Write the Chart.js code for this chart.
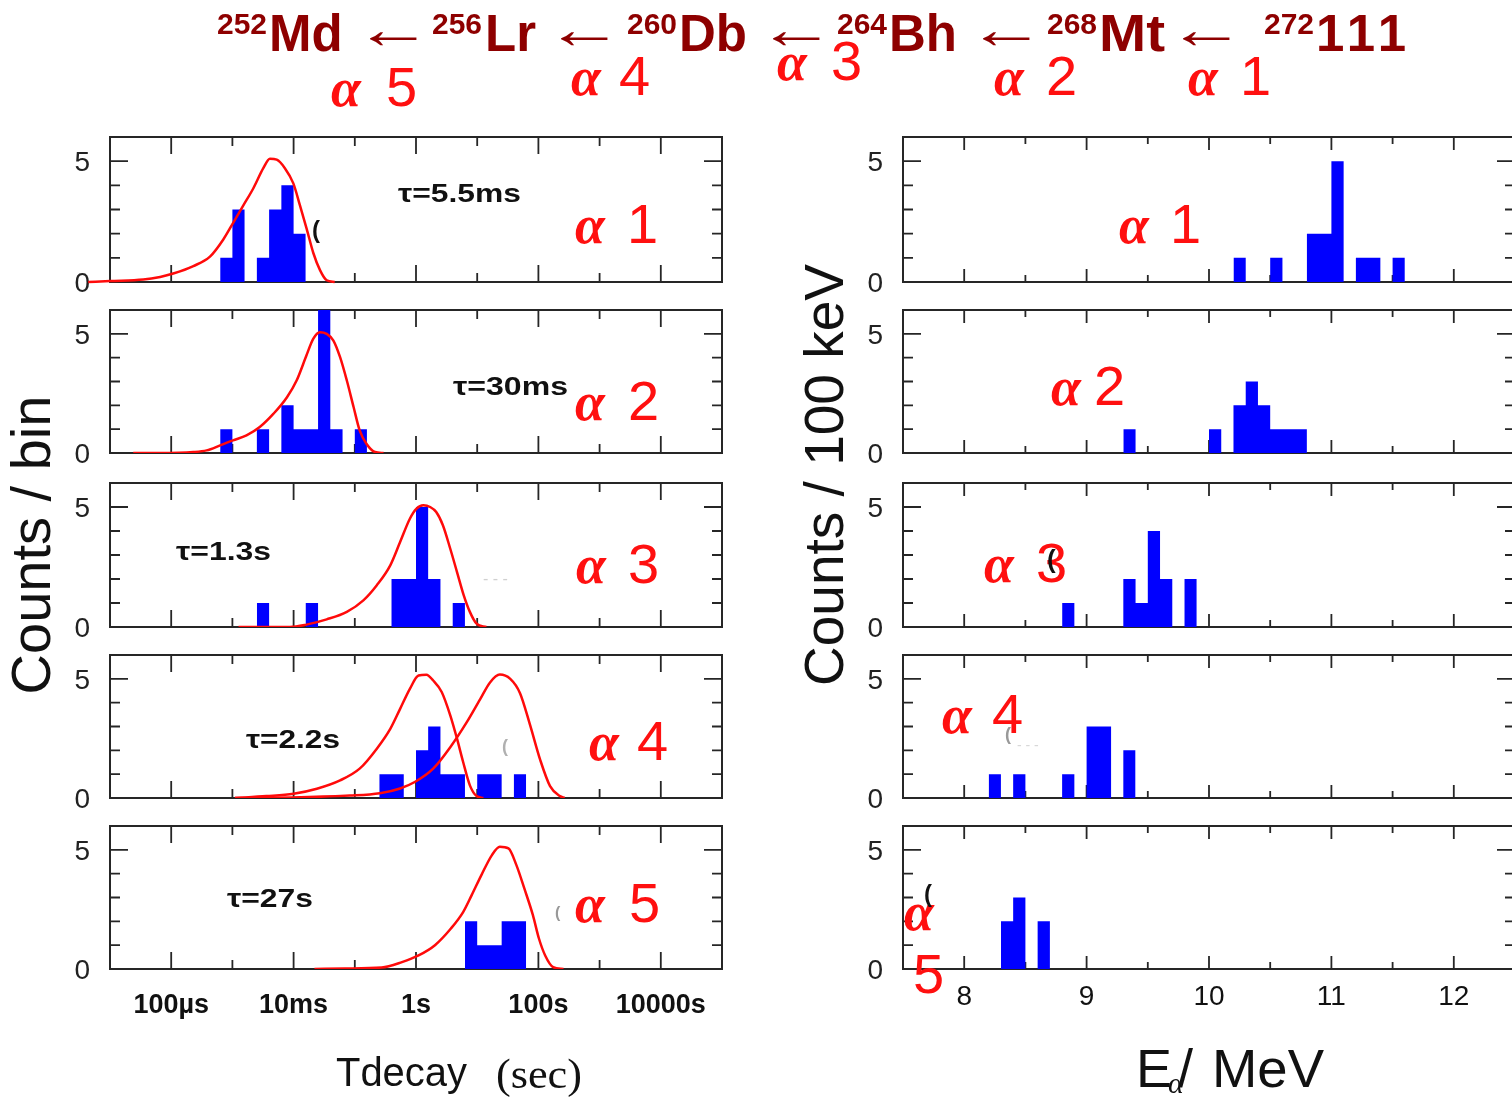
<!DOCTYPE html>
<html>
<head>
<meta charset="utf-8">
<title>Decay chain of 272111</title>
<script src="https://cdn.jsdelivr.net/npm/chart.js@4.4.1/dist/chart.umd.min.js"></script>
<style>
  html, body { margin: 0; padding: 0; background: #fff; overflow: hidden; }
  #stage { position: relative; width: 1512px; height: 1099px; overflow: hidden; background: #fff; }
  #stage canvas { position: absolute; }
  #labels { position: absolute; left: 0; top: 0; pointer-events: none; }
</style>
</head>
<body>
<div id="stage">
<svg id="labels" width="1512" height="1099" xmlns="http://www.w3.org/2000/svg">
  <!-- decay chain header -->
  <g font-family="Liberation Sans, Arial, sans-serif" font-weight="bold" fill="#8e0000">
    <text x="217" y="34" font-size="30">252</text><text x="269" y="51" font-size="51">Md</text>
    <text x="432" y="34" font-size="30">256</text><text x="485" y="51" font-size="51">Lr</text>
    <text x="627" y="34" font-size="30">260</text><text x="679" y="51" font-size="51">Db</text>
    <text x="837" y="34" font-size="30">264</text><text x="889" y="51" font-size="51">Bh</text>
    <text x="1047" y="34" font-size="30">268</text><text x="1099" y="51" font-size="51" textLength="66" lengthAdjust="spacingAndGlyphs">Mt</text>
    <text x="1264" y="34" font-size="30">272</text><text x="1316" y="51" font-size="51" textLength="90" lengthAdjust="spacing">111</text>
  </g>
  <g font-family="Liberation Serif, serif" font-size="56" fill="#8e0000" text-anchor="middle">
    <text transform="translate(393,48) scale(1.4,1)">←</text>
    <text transform="translate(584,48) scale(1.4,1)">←</text>
    <text transform="translate(796,48) scale(1.4,1)">←</text>
    <text transform="translate(1006,48) scale(1.4,1)">←</text>
    <text transform="translate(1206,48) scale(1.4,1)">←</text>
  </g>
  <!-- alpha labels -->
  <g fill="#ff1010">
    <g font-family="Liberation Serif, serif" font-style="italic" font-weight="bold" font-size="54">
      <text x="331" y="106">α</text><text x="571" y="95">α</text><text x="777" y="80">α</text>
      <text x="994" y="95">α</text><text x="1188" y="95">α</text>
      <text x="575" y="243">α</text><text x="575" y="420">α</text><text x="576" y="583">α</text>
      <text x="589" y="760">α</text><text x="575" y="922">α</text>
      <text x="1119" y="243">α</text><text x="1051" y="405">α</text><text x="984" y="582">α</text>
      <text x="942" y="733">α</text><text x="904" y="930">α</text>
    </g>
    <g font-family="Liberation Sans, Arial, sans-serif" font-size="56">
      <text x="386" y="106">5</text><text x="619" y="95">4</text><text x="831" y="80">3</text>
      <text x="1046" y="95">2</text><text x="1240" y="95">1</text>
      <text x="627" y="243">1</text><text x="628" y="420">2</text><text x="628" y="583">3</text>
      <text x="637" y="760">4</text><text x="629" y="922">5</text>
      <text x="1170" y="243">1</text><text x="1094" y="405">2</text><text x="1036" y="582">3</text>
      <text x="992" y="733">4</text><text x="913" y="993">5</text>
    </g>
  </g>
  <!-- fitted lifetimes -->
  <g font-family="Liberation Sans, Arial, sans-serif" font-weight="bold" font-size="25" fill="#111">
    <text x="398" y="202" textLength="123" lengthAdjust="spacingAndGlyphs">τ=5.5ms</text>
    <text x="453" y="395" textLength="115" lengthAdjust="spacingAndGlyphs">τ=30ms</text>
    <text x="176" y="560" textLength="95" lengthAdjust="spacingAndGlyphs">τ=1.3s</text>
    <text x="246" y="748" textLength="94" lengthAdjust="spacingAndGlyphs">τ=2.2s</text>
    <text x="227" y="907" textLength="86" lengthAdjust="spacingAndGlyphs">τ=27s</text>
  </g>
  <!-- stray marks left over in the figure -->
  <g font-family="Liberation Sans, Arial, sans-serif" font-weight="bold">
    <text x="312" y="238" font-size="24" fill="#111">(</text>
    <text x="502" y="752" font-size="18" fill="#b0b0b0">(</text>
    <text x="555" y="918" font-size="16" fill="#999">(</text>
    <text x="1047" y="568" font-size="26" fill="#111">(</text>
    <text x="1005" y="740" font-size="18" fill="#999">(</text>
    <text x="924" y="902" font-size="24" fill="#111">(</text>
    <text x="483" y="584" font-size="16" fill="#d0d0d0" font-weight="normal">-  -  -</text>
    <text x="1017" y="750" font-size="14" fill="#d8d8d8" font-weight="normal">-  -  -</text>
  </g>
  <!-- axis titles -->
  <g font-family="Liberation Sans, Arial, sans-serif" fill="#111">
    <text transform="translate(50,545) rotate(-90)" text-anchor="middle" font-size="56">Counts / bin</text>
    <text transform="translate(843,475) rotate(-90)" text-anchor="middle" font-size="55">Counts / 100 keV</text>
    <text x="336" y="1086" font-size="40" textLength="131" lengthAdjust="spacingAndGlyphs">Tdecay</text>
    <text x="496" y="1088" font-family="Liberation Serif, serif" font-size="42" textLength="86" lengthAdjust="spacingAndGlyphs">(sec)</text>
    <text x="1136" y="1087" font-size="54">E</text>
    <text x="1168" y="1093" font-family="Liberation Serif, serif" font-style="italic" font-size="30">α</text>
    <text x="1178" y="1087" font-size="54">/</text>
    <text x="1212" y="1087" font-size="54" textLength="112" lengthAdjust="spacingAndGlyphs">MeV</text>
  </g>
</svg>
</div>
<script>
// ---------- decay-time histograms: bin edges (s) and counts per bin ----------
const tEdges1 = [6.31e-4, 1.0e-3, 1.58e-3, 2.51e-3, 3.98e-3, 6.31e-3, 1.0e-2, 1.58e-2];
const tCounts1 = [1, 3, 0, 1, 3, 4, 2];
const tEdges2 = [6.31e-4, 1.0e-3, 1.58e-3, 2.51e-3, 3.98e-3, 6.31e-3, 1.0e-2, 1.58e-2, 2.51e-2, 3.98e-2, 6.31e-2, 0.1, 0.158];
const tCounts2 = [1, 0, 0, 1, 0, 2, 1, 1, 6, 1, 0, 1];
const tEdges3 = [2.51e-3, 3.98e-3, 6.31e-3, 1.0e-2, 1.58e-2, 2.51e-2, 3.98e-2, 6.31e-2, 0.1, 0.158, 0.251, 0.398, 0.631, 1.0, 1.58, 2.51, 3.98, 6.31];
const tCounts3 = [1, 0, 0, 0, 1, 0, 0, 0, 0, 0, 0, 2, 2, 5, 2, 0, 1];
const tEdges4 = [0.251, 0.398, 0.631, 1.0, 1.58, 2.51, 3.98, 6.31, 10, 15.8, 25.1, 39.8, 63.1];
const tCounts4 = [1, 1, 0, 2, 3, 1, 1, 0, 1, 1, 0, 1];
const tEdges5 = [6.31, 10, 15.8, 25.1, 39.8, 63.1];
const tCounts5 = [2, 1, 1, 2, 2];

// ---------- fitted decay-time curves: time (s) and expected counts ----------
const fitT1 = [4.4e-6, 1.0e-5, 3.5e-5, 6.6e-5, 1.08e-4, 2.3e-4, 4.3e-4, 7.1e-4, 1.04e-3, 1.51e-3, 2.19e-3, 3.2e-3, 4.1e-3, 5.3e-3, 7.2e-3, 9.9e-3, 1.27e-2, 1.64e-2, 2.1e-2, 2.7e-2, 3.47e-2, 4.7e-2];
const fitN1 = [0, 0.04, 0.10, 0.21, 0.35, 0.66, 1.05, 1.76, 2.47, 3.17, 3.87, 4.71, 5.10, 5.06, 4.71, 4.08, 3.17, 2.19, 1.20, 0.49, 0.07, 0];
const fitT2 = [2.4e-5, 6.6e-5, 2.3e-4, 3.8e-4, 6.3e-4, 1.02e-3, 1.7e-3, 2.8e-3, 4.7e-3, 7.8e-3, 1.12e-2, 1.62e-2, 2.09e-2, 2.69e-2, 3.47e-2, 4.47e-2, 5.75e-2, 7.41e-2, 9.55e-2, 0.120, 0.155, 0.214, 0.295];
const fitN2 = [0, 0, 0.04, 0.11, 0.32, 0.53, 0.74, 1.09, 1.65, 2.34, 3.04, 4.09, 4.79, 5.07, 5.0, 4.72, 4.02, 3.04, 1.93, 0.95, 0.39, 0.04, 0];
const fitT3 = [1.26e-3, 3.6e-3, 8.7e-3, 1.62e-2, 3.47e-2, 7.41e-2, 0.138, 0.229, 0.380, 0.550, 0.794, 1.02, 1.32, 1.70, 2.14, 2.75, 3.63, 4.68, 6.03, 7.59, 9.77, 14.1];
const fitN3 = [0, 0, 0, 0.10, 0.32, 0.63, 1.11, 1.74, 2.57, 3.54, 4.51, 4.93, 5.07, 5.0, 4.79, 4.24, 3.26, 2.29, 1.32, 0.63, 0.14, 0];
const fitT4a = [1.1e-3, 3.6e-3, 1.0e-2, 2.4e-2, 5.75e-2, 0.120, 0.229, 0.380, 0.550, 0.794, 1.10, 1.48, 1.91, 2.63, 3.63, 4.68, 5.89, 7.59, 9.77, 12.6];
const fitN4a = [0, 0.08, 0.18, 0.39, 0.74, 1.23, 2.07, 2.90, 3.74, 4.58, 5.14, 5.17, 4.93, 4.45, 3.47, 2.49, 1.51, 0.53, 0.08, 0];
const fitT4b = [1.1e-3, 1.26e-2, 8.3e-2, 0.257, 0.55, 0.955, 1.91, 3.63, 6.76, 11.2, 16.2, 23.4, 34.7, 50.1, 72.4, 107, 155, 224, 269];
const fitN4b = [0, 0.03, 0.1, 0.2, 0.4, 0.67, 1.23, 2.13, 3.18, 4.15, 4.85, 5.18, 5.0, 4.4, 3.1, 1.6, 0.5, 0.08, 0];
const fitT5 = [2.19e-2, 6.92e-2, 0.275, 0.589, 1.10, 2.04, 3.72, 5.89, 8.13, 11.7, 17.4, 23.4, 32.4, 43.7, 58.9, 81.3, 102, 129, 174, 257];
const fitN5 = [0, 0.02, 0.06, 0.29, 0.57, 1.0, 1.70, 2.39, 3.10, 3.94, 4.78, 5.13, 5.06, 4.36, 3.38, 2.26, 1.28, 0.57, 0.08, 0];

// ---------- alpha-energy histograms: bin edges (MeV) and counts per 100 keV ----------
const eEdges1 = [10.2, 10.3, 10.4, 10.5, 10.6, 10.7, 10.8, 10.9, 11.0, 11.1, 11.2, 11.3, 11.4, 11.5, 11.6];
const eCounts1 = [1, 0, 0, 1, 0, 0, 2, 2, 5, 0, 1, 1, 0, 1];
const eEdges2 = [9.3, 9.4, 9.5, 9.6, 9.7, 9.8, 9.9, 10.0, 10.1, 10.2, 10.3, 10.4, 10.5, 10.6, 10.7, 10.8];
const eCounts2 = [1, 0, 0, 0, 0, 0, 0, 1, 0, 2, 3, 2, 1, 1, 1];
const eEdges3 = [8.8, 8.9, 9.0, 9.1, 9.2, 9.3, 9.4, 9.5, 9.6, 9.7, 9.8, 9.9];
const eCounts3 = [1, 0, 0, 0, 0, 2, 1, 4, 2, 0, 2];
const eEdges4 = [8.2, 8.3, 8.4, 8.5, 8.6, 8.7, 8.8, 8.9, 9.0, 9.1, 9.2, 9.3, 9.4];
const eCounts4 = [1, 0, 1, 0, 0, 0, 1, 0, 3, 3, 0, 2];
const eEdges5 = [8.3, 8.4, 8.5, 8.6, 8.7];
const eCounts5 = [2, 3, 0, 2];

// ---------- axis ticks ----------
const timeTicks = [1e-4, 1e-2, 1, 100, 1e4];
const timeTickLabels = ['100µs', '10ms', '1s', '100s', '10000s'];
const timeMinorTicks = [1e-3, 0.1, 10, 1000];
const energyTicks = [8, 9, 10, 11, 12];
const energyTickLabels = ['8', '9', '10', '11', '12'];
const energyMinorTicks = [8.5, 9.5, 10.5, 11.5];
const countTicks = [0, 5];
const countMinorTicks = [1, 2, 3, 4];

// ---------- layout ----------
const ROW_TOP = [137, 310, 483, 655, 826];
const ROW_BOTTOM = [282, 453, 627, 798, 969];
const COLUMNS = {
  time:   { left: 110, right: 722, min: 1e-5, max: 1e5, type: 'logarithmic',
            major: timeTicks, minor: timeMinorTicks, labels: timeTickLabels,
            majorLen: 17, minorLen: 9,
            font: { family: 'Liberation Sans, Arial, sans-serif', size: 27, weight: 'bold' }, pad: 20 },
  energy: { left: 903, right: 1515, min: 7.5, max: 12.5, type: 'linear',
            major: energyTicks, minor: energyMinorTicks, labels: energyTickLabels,
            majorLen: 13, minorLen: 7,
            font: { family: 'Liberation Sans, Arial, sans-serif', size: 28 }, pad: 11 }
};
const PAD = 20, YAXIS_W = 80, XAXIS_H = 72;

// box around each panel with inward tick marks on all four sides
const framePlugin = {
  id: 'frame',
  beforeDatasetsDraw(chart, args, o) {
    const { ctx, chartArea: a } = chart;
    const xs = chart.scales.x, ys = chart.scales.y;
    ctx.save();
    ctx.strokeStyle = '#262626';
    ctx.lineWidth = 2;
    ctx.strokeRect(a.left, a.top, a.right - a.left, a.bottom - a.top);
    ctx.lineWidth = 1.8;
    ctx.beginPath();
    const xt = (v, len) => {
      const p = xs.getPixelForValue(v);
      ctx.moveTo(p, a.bottom); ctx.lineTo(p, a.bottom - len);
      ctx.moveTo(p, a.top); ctx.lineTo(p, a.top + len);
    };
    const yt = (v, len) => {
      const p = ys.getPixelForValue(v);
      ctx.moveTo(a.left, p); ctx.lineTo(a.left + len, p);
      ctx.moveTo(a.right, p); ctx.lineTo(a.right - len, p);
    };
    o.xMajor.forEach(v => xt(v, o.xMajorLen));
    o.xMinor.forEach(v => xt(v, o.xMinorLen));
    o.yMajor.forEach(v => yt(v, 18));
    o.yMinor.forEach(v => yt(v, 10));
    ctx.stroke();
    ctx.restore();
  }
};

function histPoints(edges, counts) {
  const pts = counts.map((c, i) => ({ x: edges[i], y: c }));
  pts.push({ x: edges[edges.length - 1], y: counts[counts.length - 1] });
  return pts;
}
function curvePoints(xs, ys) {
  return xs.map((x, i) => ({ x, y: ys[i] }));
}

const stage = document.getElementById('stage');
const svg = document.getElementById('labels');

function makePanel(kind, row, edges, counts, fits) {
  const col = COLUMNS[kind];
  const last = row === ROW_TOP.length - 1;
  const xh = last ? XAXIS_H : PAD;
  const w = YAXIS_W + (col.right - col.left) + PAD;
  const h = PAD + (ROW_BOTTOM[row] - ROW_TOP[row]) + xh;
  const cv = document.createElement('canvas');
  cv.width = w; cv.height = h;
  cv.style.left = (col.left - YAXIS_W) + 'px';
  cv.style.top = (ROW_TOP[row] - PAD) + 'px';
  cv.style.width = w + 'px';
  cv.style.height = h + 'px';
  stage.insertBefore(cv, svg);

  const datasets = [{
    data: histPoints(edges, counts),
    stepped: true,
    fill: 'origin',
    backgroundColor: '#0000ff',
    borderColor: 'rgba(0,0,0,0)',
    borderWidth: 0,
    pointRadius: 0,
    order: 2
  }];
  fits.forEach(f => datasets.push({
    data: curvePoints(f.t, f.n),
    borderColor: '#ff0a0a',
    borderWidth: 2.5,
    pointRadius: 0,
    fill: false,
    cubicInterpolationMode: 'monotone',
    clip: f.clip === false ? false : undefined,
    order: 1
  }));

  return new Chart(cv, {
    type: 'line',
    data: { datasets },
    options: {
      responsive: false,
      animation: false,
      events: [],
      layout: { padding: { top: PAD, right: PAD, left: 0, bottom: 0 } },
      plugins: {
        legend: { display: false },
        tooltip: { enabled: false },
        frame: { xMajor: col.major, xMinor: col.minor, xMajorLen: col.majorLen, xMinorLen: col.minorLen,
                 yMajor: [5], yMinor: countMinorTicks }
      },
      scales: {
        x: {
          type: col.type, min: col.min, max: col.max, position: 'bottom',
          grid: { display: false, drawTicks: false }, border: { display: false },
          afterFit: s => { s.height = xh; s.paddingLeft = 0; s.paddingRight = 0; },
          afterBuildTicks: s => { s.ticks = col.major.map(v => ({ value: v })); },
          ticks: { display: last, autoSkip: false, maxRotation: 0, minRotation: 0,
                   padding: col.pad, font: col.font, color: '#111',
                   callback: (v, i) => col.labels[i] }
        },
        y: {
          min: 0, max: 6,
          grid: { display: false, drawTicks: false }, border: { display: false },
          afterFit: s => { s.width = YAXIS_W; s.paddingTop = 0; s.paddingBottom = 0; },
          afterBuildTicks: s => { s.ticks = countTicks.map(v => ({ value: v })); },
          ticks: { padding: 20, color: '#222', labelOffset: 2,
                   font: { family: 'Liberation Sans, Arial, sans-serif', size: 28 },
                   callback: v => String(v) }
        }
      }
    },
    plugins: [framePlugin]
  });
}

// decay-time panels (left column)
makePanel('time', 0, tEdges1, tCounts1, [{ t: fitT1, n: fitN1, clip: false }]);
makePanel('time', 1, tEdges2, tCounts2, [{ t: fitT2, n: fitN2 }]);
makePanel('time', 2, tEdges3, tCounts3, [{ t: fitT3, n: fitN3 }]);
makePanel('time', 3, tEdges4, tCounts4, [{ t: fitT4a, n: fitN4a }, { t: fitT4b, n: fitN4b }]);
makePanel('time', 4, tEdges5, tCounts5, [{ t: fitT5, n: fitN5 }]);

// alpha-energy panels (right column)
makePanel('energy', 0, eEdges1, eCounts1, []);
makePanel('energy', 1, eEdges2, eCounts2, []);
makePanel('energy', 2, eEdges3, eCounts3, []);
makePanel('energy', 3, eEdges4, eCounts4, []);
makePanel('energy', 4, eEdges5, eCounts5, []);
</script>
</body>
</html>
